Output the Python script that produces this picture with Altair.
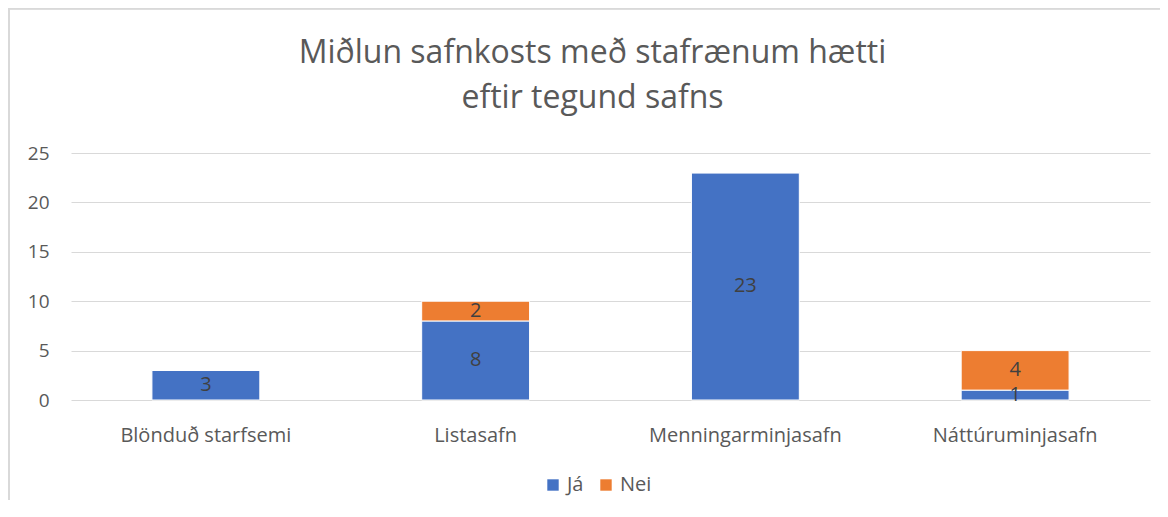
import altair as alt
import pandas as pd

categories = ["Blönduð starfsemi", "Listasafn", "Menningarminjasafn", "Náttúruminjasafn"]
series = ["Já", "Nei"]
ja_values = [3, 8, 23, 1]
nei_values = [0, 2, 0, 4]

rows = []
for c, j, n in zip(categories, ja_values, nei_values):
    rows.append({"cat": c, "series": "Já", "order": 0, "value": j})
    rows.append({"cat": c, "series": "Nei", "order": 1, "value": n})
df = pd.DataFrame(rows)

font = "Open Sans"
color_scale = alt.Scale(domain=series, range=["#4472C4", "#ED7D31"])

base = alt.Chart(df).transform_stack(
    stack="value", as_=["y0", "y1"], groupby=["cat"], sort=[alt.SortField("order")]
).transform_calculate(mid="(datum.y0 + datum.y1) / 2")

x_scale = alt.Scale(domain=categories, paddingInner=0.6, paddingOuter=0.3)
y_scale = alt.Scale(domain=[0, 25], nice=False)

x_axis = alt.Axis(labelAngle=0, labelPadding=25, ticks=False, domain=False, grid=False,
                  labelFontSize=20, labelColor="#595959", labelFont=font, labelLimit=400)
y_axis = alt.Axis(values=[0, 5, 10, 15, 20, 25], labelPadding=22, ticks=False, domain=False,
                  gridColor="#D9D9D9", gridWidth=1,
                  labelFontSize=19, labelColor="#595959", labelFont=font)

bars = base.mark_bar(stroke="white", strokeWidth=1).encode(
    x=alt.X("cat:N", sort=categories, title=None, scale=x_scale, axis=x_axis),
    y=alt.Y("y0:Q", title=None, scale=y_scale, axis=y_axis),
    y2="y1:Q",
    color=alt.Color("series:N", scale=color_scale, title=None,
                    legend=alt.Legend(orient="none", legendX=472, legendY=322, direction="horizontal",
                                      symbolType="square", symbolSize=130, symbolStrokeWidth=0,
                                      labelFontSize=20, labelColor="#595959", labelFont=font,
                                      columnPadding=12, labelOffset=4)),
)

labels = base.transform_filter("datum.value > 0").mark_text(
    fontSize=20, color="#404040", font=font, baseline="middle"
).encode(
    x=alt.X("cat:N", sort=categories, title=None, scale=x_scale, axis=x_axis),
    y=alt.Y("mid:Q", title=None, scale=y_scale, axis=y_axis),
    text=alt.Text("value:Q"),
)

# chart frame (decorative border, top and left edges)
frame_top = alt.Chart(df).mark_rule(color="#D9D9D9", strokeWidth=1.5).encode(
    x=alt.value(-62), x2=alt.value(1089), y=alt.value(-144.5)
)
frame_left = alt.Chart(df).mark_rule(color="#D9D9D9", strokeWidth=1.5).encode(
    x=alt.value(-62), y=alt.value(-145), y2=alt.value(347)
)

chart = alt.layer(bars, labels, frame_top, frame_left).properties(
    width=1079, height=247,
    autosize=alt.AutoSizeParams(type="none"),
    padding={"left": 63, "top": 145, "right": 10, "bottom": 100},
    title=alt.TitleParams(["Miðlun safnkosts með stafrænum hætti", "eftir tegund safns"],
                          fontSize=32, fontWeight="normal", font=font, color="#595959",
                          anchor="middle", lineHeight=45, offset=-108, dx=-18),
).configure_view(stroke=None).configure_axis(
    labelFontSize=19, labelColor="#595959", labelFont=font
).configure_legend(
    labelFontSize=20, labelColor="#595959", labelFont=font
)

chart.save("out.html", embed_options={"renderer": "svg", "actions": False})
